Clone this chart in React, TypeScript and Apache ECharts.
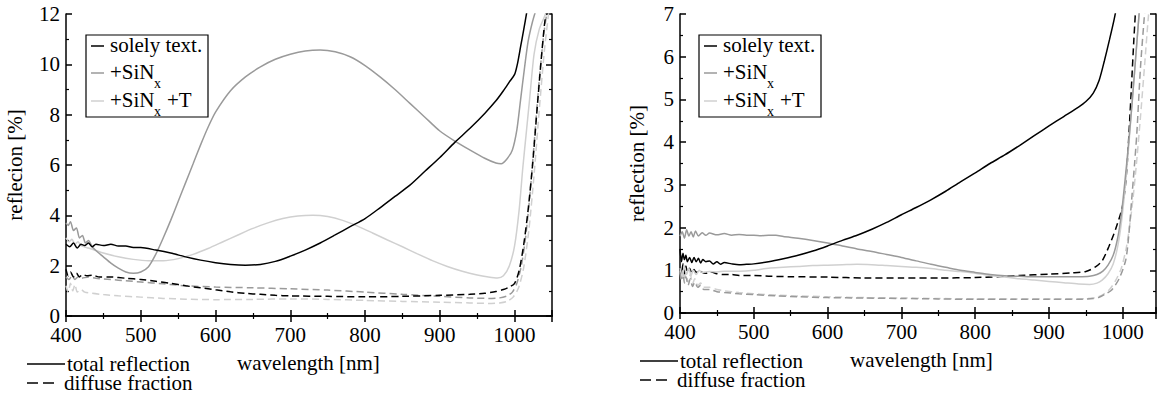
import React, { useEffect, useRef } from "react";
import * as echarts from "echarts";

// ---------- data (wavelength [nm], reflection [%]) ----------
// Left panel
const L_totalSolely: number[][] = [
  [400, 2.85], [405, 2.75], [410, 2.9], [415, 2.7], [420, 2.85], [425, 2.8], [430, 2.9], [435, 2.75], [440, 2.85],
  [450, 2.8], [460, 2.85], [470, 2.78], [480, 2.78], [490, 2.72], [500, 2.72], [520, 2.62], [540, 2.5], [560, 2.35],
  [580, 2.22], [600, 2.12], [620, 2.05], [640, 2.02], [660, 2.05], [680, 2.17], [700, 2.38], [720, 2.62], [740, 2.9],
  [760, 3.22], [780, 3.55], [800, 3.87], [820, 4.3], [840, 4.75], [860, 5.2], [880, 5.75], [900, 6.3], [920, 6.9],
  [940, 7.45], [960, 8.05], [975, 8.55], [985, 8.95], [993, 9.3], [1000, 9.6], [1004, 10.05], [1008, 10.7], [1012, 11.35], [1017, 12.2],
];
const L_totalSiN: number[][] = [
  [400, 3.7], [403, 3.6], [406, 3.75], [410, 3.4], [414, 3.5], [418, 3.1], [422, 3.2], [426, 2.9], [430, 3.0], [435, 2.75],
  [440, 2.6], [450, 2.35], [460, 2.1], [470, 1.9], [480, 1.75], [490, 1.7], [500, 1.75], [510, 1.95], [520, 2.45],
  [530, 3.1], [540, 3.8], [550, 4.55], [560, 5.3], [570, 6.05], [580, 6.8], [590, 7.5], [600, 8.1], [620, 8.95],
  [640, 9.5], [660, 9.9], [680, 10.2], [700, 10.4], [720, 10.53], [740, 10.57], [760, 10.5], [780, 10.3], [800, 9.95],
  [820, 9.5], [840, 9.0], [860, 8.45], [880, 7.9], [900, 7.35], [920, 6.95], [940, 6.6], [960, 6.27], [975, 6.08],
  [982, 6.05], [990, 6.25], [997, 6.6], [1003, 7.4], [1008, 8.6], [1013, 9.8], [1018, 10.9], [1024, 11.7], [1030, 12.3],
];
const L_totalSiNT: number[][] = [
  [400, 3.1], [404, 2.95], [408, 3.05], [412, 2.85], [416, 2.95], [420, 2.8], [430, 2.7], [440, 2.6], [450, 2.5],
  [470, 2.35], [490, 2.25], [510, 2.2], [530, 2.2], [550, 2.28], [570, 2.45], [590, 2.68], [610, 2.95], [630, 3.22],
  [650, 3.48], [670, 3.7], [690, 3.87], [710, 3.97], [730, 4.0], [750, 3.95], [770, 3.8], [790, 3.57], [810, 3.3],
  [830, 3.02], [850, 2.75], [870, 2.47], [890, 2.2], [910, 1.97], [930, 1.78], [950, 1.63], [965, 1.55], [977, 1.51],
  [985, 1.6], [993, 2.0], [1000, 2.8], [1006, 4.2], [1011, 5.9], [1016, 7.4], [1020, 8.6], [1026, 10.4], [1033, 11.4],
  [1040, 11.9], [1046, 12.4],
];
const L_diffSolely: number[][] = [
  [400, 1.85], [403, 1.6], [406, 1.75], [410, 1.55], [414, 1.7], [418, 1.55], [422, 1.65], [428, 1.6], [435, 1.62],
  [445, 1.55], [460, 1.55], [480, 1.5], [500, 1.45], [520, 1.38], [540, 1.3], [560, 1.2], [580, 1.12], [600, 1.04],
  [620, 0.96], [640, 0.9], [660, 0.86], [680, 0.82], [700, 0.8], [750, 0.78], [800, 0.76], [850, 0.78], [900, 0.82],
  [940, 0.86], [960, 0.9], [975, 0.97], [985, 1.05], [993, 1.15], [1000, 1.3], [1006, 1.8], [1012, 2.8], [1018, 4.2],
  [1024, 6.0], [1030, 8.2], [1035, 10.0], [1040, 11.6], [1044, 12.4],
];
const L_diffSiN: number[][] = [
  [400, 1.55], [404, 1.45], [408, 1.6], [412, 1.45], [416, 1.55], [420, 1.5], [430, 1.55], [440, 1.5], [460, 1.45],
  [480, 1.4], [500, 1.35], [530, 1.28], [560, 1.2], [600, 1.15], [650, 1.12], [700, 1.08], [750, 1.03], [800, 0.95],
  [850, 0.86], [900, 0.78], [940, 0.72], [965, 0.7], [980, 0.72], [990, 0.8], [997, 0.95], [1003, 1.3], [1009, 2.0],
  [1015, 3.2], [1021, 5.0], [1027, 7.2], [1033, 9.4], [1039, 11.2], [1045, 12.4],
];
const L_diffSiNT: number[][] = [
  [400, 1.2], [403, 0.95], [406, 1.3], [409, 1.0], [412, 1.25], [415, 0.95], [420, 1.05], [425, 0.95], [435, 0.9],
  [450, 0.85], [470, 0.8], [500, 0.75], [530, 0.7], [560, 0.67], [600, 0.65], [650, 0.66], [700, 0.68], [750, 0.66],
  [800, 0.62], [850, 0.58], [900, 0.55], [940, 0.52], [965, 0.5], [980, 0.52], [990, 0.58], [998, 0.75], [1005, 1.1],
  [1012, 1.9], [1019, 3.4], [1026, 5.6], [1033, 8.2], [1040, 10.6], [1047, 12.4],
];

// Right panel
const R_totalSolely: number[][] = [
  [400, 1.5], [402, 1.2], [404, 1.4], [406, 1.25], [408, 1.35], [410, 1.2], [413, 1.3], [416, 1.18], [419, 1.3],
  [422, 1.2], [425, 1.28], [428, 1.17], [431, 1.25], [435, 1.2], [440, 1.22], [445, 1.15], [450, 1.2], [455, 1.14],
  [460, 1.18], [470, 1.15], [480, 1.13], [490, 1.14], [500, 1.15], [520, 1.2], [540, 1.27], [560, 1.35], [580, 1.45],
  [600, 1.57], [620, 1.7], [640, 1.82], [660, 1.96], [680, 2.12], [700, 2.3], [720, 2.47], [740, 2.65], [760, 2.85],
  [780, 3.07], [800, 3.28], [820, 3.5], [840, 3.7], [860, 3.92], [880, 4.15], [900, 4.38], [920, 4.6], [940, 4.82],
  [950, 4.95], [960, 5.15], [968, 5.45], [975, 5.9], [982, 6.4], [988, 6.85], [992, 7.2],
];
const R_totalSiN: number[][] = [
  [400, 1.8], [403, 1.9], [406, 1.75], [409, 1.95], [412, 1.8], [415, 1.9], [418, 1.78], [421, 1.92], [425, 1.8],
  [430, 1.88], [435, 1.82], [440, 1.87], [450, 1.83], [460, 1.86], [470, 1.82], [480, 1.84], [490, 1.82], [500, 1.82],
  [510, 1.81], [520, 1.82], [530, 1.82], [540, 1.79], [560, 1.75], [580, 1.7], [600, 1.64], [620, 1.57], [640, 1.5],
  [660, 1.44], [680, 1.37], [700, 1.3], [720, 1.22], [740, 1.14], [760, 1.07], [780, 1.0], [800, 0.95], [820, 0.9],
  [840, 0.87], [860, 0.86], [880, 0.85], [900, 0.85], [920, 0.85], [940, 0.85], [955, 0.86], [965, 0.9], [973, 0.98],
  [980, 1.12], [987, 1.35], [993, 1.75], [998, 2.3], [1003, 3.1], [1008, 4.0], [1013, 5.0], [1018, 6.1], [1023, 7.2],
];
const R_totalSiNT: number[][] = [
  [400, 1.05], [403, 0.85], [406, 1.1], [409, 0.9], [412, 1.05], [415, 0.88], [418, 1.0], [422, 0.9], [426, 1.0],
  [430, 0.95], [440, 0.97], [450, 0.96], [460, 0.98], [480, 0.98], [500, 1.0], [520, 1.05], [540, 1.07], [560, 1.09],
  [580, 1.11], [600, 1.12], [620, 1.13], [640, 1.14], [660, 1.13], [680, 1.11], [700, 1.09], [720, 1.07], [740, 1.04],
  [760, 1.0], [780, 0.97], [800, 0.93], [820, 0.88], [840, 0.84], [860, 0.8], [880, 0.77], [900, 0.74], [920, 0.71],
  [940, 0.68], [955, 0.67], [965, 0.7], [972, 0.77], [980, 0.92], [987, 1.15], [993, 1.55], [998, 2.1], [1003, 2.9],
  [1008, 3.9], [1013, 5.0], [1018, 6.1], [1023, 7.2],
];
const R_diffSolely: number[][] = [
  [400, 1.05], [402, 0.9], [404, 1.15], [406, 0.92], [408, 1.1], [410, 0.95], [413, 1.05], [416, 0.93], [419, 1.02],
  [422, 0.95], [426, 1.0], [430, 0.95], [435, 0.93], [440, 0.97], [450, 0.92], [460, 0.9], [470, 0.9], [480, 0.88],
  [500, 0.88], [520, 0.86], [550, 0.85], [600, 0.84], [650, 0.82], [700, 0.82], [750, 0.82], [800, 0.83], [830, 0.85],
  [860, 0.88], [900, 0.91], [930, 0.94], [950, 0.97], [963, 1.08], [972, 1.22], [981, 1.55], [990, 1.95], [999, 2.45],
  [1003, 2.9], [1006, 3.5], [1009, 4.4], [1012, 5.4], [1015, 6.4], [1018, 7.3],
];
const R_diffSiN: number[][] = [
  [400, 0.95], [402, 0.75], [404, 0.95], [406, 0.7], [408, 0.85], [411, 0.65], [414, 0.8], [417, 0.62], [420, 0.72],
  [424, 0.6], [428, 0.65], [432, 0.55], [440, 0.55], [450, 0.5], [460, 0.48], [480, 0.45], [500, 0.43], [530, 0.4],
  [560, 0.38], [600, 0.36], [650, 0.35], [700, 0.34], [750, 0.33], [800, 0.32], [850, 0.32], [900, 0.32], [940, 0.32],
  [960, 0.34], [968, 0.37], [976, 0.44], [985, 0.54], [995, 0.8], [1004, 1.24], [1008, 1.8], [1012, 2.65], [1016, 3.5],
  [1019, 4.2], [1024, 5.76], [1029, 6.9], [1031, 7.3],
];
const R_diffSiNT: number[][] = [
  [400, 1.0], [402, 0.8], [404, 1.05], [406, 0.78], [408, 0.95], [411, 0.72], [414, 0.9], [417, 0.68], [420, 0.8],
  [424, 0.65], [428, 0.7], [432, 0.6], [440, 0.6], [450, 0.55], [460, 0.52], [480, 0.48], [500, 0.45], [530, 0.42],
  [560, 0.4], [600, 0.38], [650, 0.36], [700, 0.35], [750, 0.34], [800, 0.33], [850, 0.33], [900, 0.33], [940, 0.33],
  [960, 0.35], [972, 0.42], [982, 0.55], [990, 0.75], [998, 1.05], [1005, 1.55], [1012, 2.4], [1018, 3.4], [1024, 4.6],
  [1030, 5.9], [1035, 7.0], [1038, 7.4],
];

const legendNames = ["solely text.", "+SiN", "+SiN"];
const bottomLabels = ["total reflection", "diffuse fraction"];
const xName = "wavelength [nm]";
const yNameLeft = "reflecion [%]";
const yNameRight = "reflection [%]";

const BLACK = "#000000";
const GRAY = "#9a9a9a";
const LIGHT = "#d0d0d0";
const FONT = "Liberation Serif";

export default function App() {
  const ref = useRef<HTMLDivElement>(null);
  useEffect(() => {
    if (!ref.current) return;
    const chart = echarts.init(ref.current, undefined, { renderer: "svg" });

    const axisLine = { show: true, lineStyle: { color: BLACK, width: 1.5 } };
    const mkX = (grid: number, max: number, pos: "bottom" | "top") => ({
      type: "value" as const,
      gridIndex: grid,
      position: pos,
      min: 400,
      max,
      interval: 100,
      axisLine,
      axisTick: { show: true, inside: true, length: 6, lineStyle: { color: BLACK, width: 1.5 } },
      minorTick: { show: true, splitNumber: 2, length: 3, lineStyle: { color: BLACK, width: 1.2 } },
      splitLine: { show: false },
      minorSplitLine: { show: false },
      axisLabel: {
        show: pos === "bottom",
        showMaxLabel: false,
        formatter: (v: number) => String(v),
        color: BLACK,
        fontFamily: FONT,
        fontSize: 21,
        margin: 8,
      },
    });
    const mkY = (grid: number, max: number, interval: number, pos: "left" | "right", name?: string, gap?: number) => ({
      type: "value" as const,
      gridIndex: grid,
      position: pos,
      min: 0,
      max,
      interval,
      name: name ?? "",
      nameLocation: "middle" as const,
      nameGap: gap ?? 0,
      nameTextStyle: { color: BLACK, fontFamily: FONT, fontSize: 21 },
      axisLine,
      axisTick: { show: true, inside: true, length: 6, lineStyle: { color: BLACK, width: 1.5 } },
      minorTick: { show: true, splitNumber: 2, length: 3, lineStyle: { color: BLACK, width: 1.2 } },
      splitLine: { show: false },
      minorSplitLine: { show: false },
      axisLabel: {
        show: pos === "left",
        formatter: (v: number) => String(v),
        color: BLACK,
        fontFamily: FONT,
        fontSize: 21,
        margin: 6,
      },
    });

    const line = (data: number[][], xi: number, yi: number, color: string, dashed: boolean, z: number) => ({
      type: "line" as const,
      xAxisIndex: xi,
      yAxisIndex: yi,
      data,
      showSymbol: false,
      symbol: "none",
      silent: true,
      smooth: 0.25,
      z,
      lineStyle: { color, width: 1.5, type: dashed ? [7, 4] : "solid" },
    });

    const txt = (x: number, y: number, text: string, size = 21) => ({
      type: "text",
      x,
      y,
      z: 51,
      style: { text, fill: BLACK, fontFamily: FONT, fontSize: size, align: "left", verticalAlign: "middle" },
    });

    const legendBox = (x0: number) => [
      { type: "rect", shape: { x: x0, y: 35, width: 122, height: 82 }, style: { fill: "#fff", stroke: BLACK, lineWidth: 1.2 }, z: 50 },
      { type: "line", shape: { x1: x0 + 5, y1: 46, x2: x0 + 18, y2: 46 }, style: { stroke: BLACK, lineWidth: 1.5 }, z: 51 },
      { type: "line", shape: { x1: x0 + 5, y1: 73, x2: x0 + 18, y2: 73 }, style: { stroke: GRAY, lineWidth: 1.5 }, z: 51 },
      { type: "line", shape: { x1: x0 + 5, y1: 101, x2: x0 + 18, y2: 101 }, style: { stroke: LIGHT, lineWidth: 1.5 }, z: 51 },
      txt(x0 + 24, 45, legendNames[0]),
      txt(x0 + 24, 72, legendNames[1]),
      txt(x0 + 68, 83, "x", 14),
      txt(x0 + 24, 100, legendNames[2]),
      txt(x0 + 68, 111, "x", 14),
      txt(x0 + 81, 100, "+T"),
    ];

    const bottomLegend = (lx: number, tx: number, y1: number, y2: number, xnX: number) => [
      { type: "line", shape: { x1: lx, y1, x2: lx + 38, y2: y1 }, style: { stroke: BLACK, lineWidth: 1.5 } },
      { type: "line", shape: { x1: lx, y1: y2, x2: lx + 11, y2 }, style: { stroke: BLACK, lineWidth: 1.5 } },
      { type: "line", shape: { x1: lx + 16, y1: y2, x2: lx + 27, y2 }, style: { stroke: BLACK, lineWidth: 1.5 } },
      txt(tx, y1, bottomLabels[0]),
      txt(tx - 3, y2, bottomLabels[1]),
      txt(xnX, y1 - 1, xName),
    ];

    chart.setOption({
      animation: false,
      backgroundColor: "#ffffff",
      textStyle: { fontFamily: FONT },
      grid: [
        { left: 66, top: 14, width: 486, height: 302 },
        { left: 680, top: 14, width: 476, height: 299 },
      ],
      xAxis: [mkX(0, 1050, "bottom"), mkX(0, 1050, "top"), mkX(1, 1045, "bottom"), mkX(1, 1045, "top")],
      yAxis: [
        mkY(0, 12, 2, "left", yNameLeft, 41),
        mkY(0, 12, 2, "right"),
        mkY(1, 7, 1, "left", yNameRight, 33),
        mkY(1, 7, 1, "right"),
      ],
      series: [
        line(L_diffSiNT, 0, 0, LIGHT, true, 2),
        line(L_diffSiN, 0, 0, GRAY, true, 3),
        line(L_diffSolely, 0, 0, BLACK, true, 4),
        line(L_totalSiNT, 0, 0, LIGHT, false, 5),
        line(L_totalSiN, 0, 0, GRAY, false, 6),
        line(L_totalSolely, 0, 0, BLACK, false, 7),
        line(R_diffSiNT, 2, 2, LIGHT, true, 2),
        line(R_diffSiN, 2, 2, GRAY, true, 3),
        line(R_diffSolely, 2, 2, BLACK, true, 4),
        line(R_totalSiNT, 2, 2, LIGHT, false, 5),
        line(R_totalSiN, 2, 2, GRAY, false, 6),
        line(R_totalSolely, 2, 2, BLACK, false, 7),
      ],
      graphic: [
        ...legendBox(86),
        ...legendBox(699),
        ...bottomLegend(27, 67, 364, 383, 237),
        ...bottomLegend(640, 680, 361, 380, 850),
      ],
    });
    return () => chart.dispose();
  }, []);
  return <div ref={ref} style={{ position: "fixed", left: 0, top: 0, width: 1157, height: 394, background: "#fff" }} />;
}
